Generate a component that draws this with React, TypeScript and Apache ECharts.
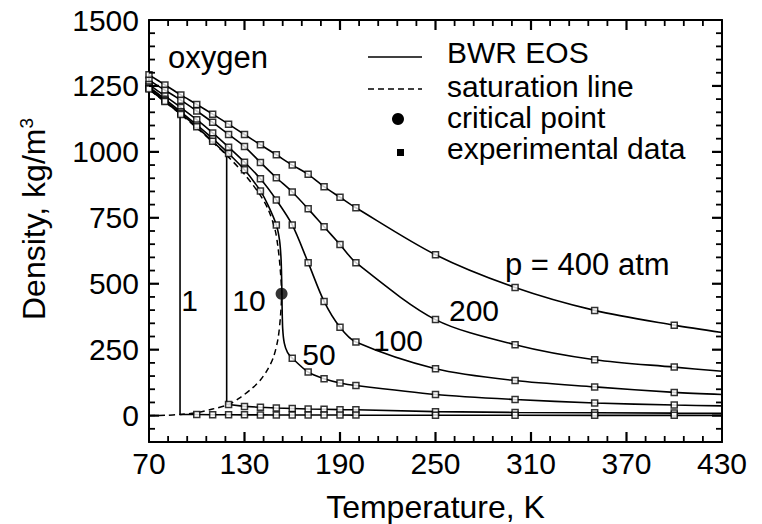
import React, { useEffect, useRef } from 'react';
import * as echarts from 'echarts';

// ---------- data ----------
const T_EXP = [70, 80, 90, 100, 110, 120, 130, 140, 150, 160, 170, 180, 190, 200, 250, 300, 350, 400];
const RHO_400 = [1292, 1254, 1216, 1180, 1143, 1105, 1066, 1027, 989, 950, 915, 868, 828, 788, 610, 486, 399, 343];
const RHO_200 = [1272, 1234, 1196, 1155, 1112, 1066, 1020, 960, 902, 848, 784, 716, 649, 580, 364, 269, 212, 184];
const RHO_100 = [1255, 1212, 1168, 1122, 1072, 1018, 961, 898, 818, 723, 580, 433, 335, 279, 178, 133, 109, 88];
const RHO_50 = [1246, 1200, 1152, 1102, 1050, 994, 932, 852, 723, 218, 165, 140, 124, 114, 80, 61, 48, 40];
const END_430 = { p400: 315, p200: 168, p100: 80, p50: 37, p10: 9, p1: 0.9 };

// 50 atm: extra BWR points near the critical region
const CURVE_50_NEAR_CRIT: [number, number][] = [
  [145, 795], [152, 665], [153, 590], [153.4, 500], [153.6, 420], [154, 330], [155, 275], [157, 240],
];

// 10 atm
const T10_LIQ = [70, 80, 90, 100, 110];
const RHO10_LIQ = [1241, 1194, 1146, 1095, 1040];
const T10_BOIL = 118.8;
const RHO10_BOIL_LIQ = 990;
const RHO10_BOIL_GAS = 42;
const T10_GAS = [120, 130, 140, 150, 160, 170, 180, 190, 200, 250, 300, 350, 400];
const RHO10_GAS = [42, 35, 31.6, 29, 27, 25, 24, 22.7, 22, 15, 12, 11, 9.5];

// 1 atm
const T1_LIQ = [70, 80, 90];
const RHO1_LIQ = [1238, 1191, 1142];
const T1_BOIL = 89.5;
const RHO1_BOIL_GAS = 4.3;
const T1_GAS = [100, 110, 120, 130, 140, 150, 160, 170, 180, 190, 200, 250, 300, 350, 400];
const RHO1_GAS = [4, 3.6, 3.3, 3, 2.8, 2.6, 2.4, 2.3, 2.2, 2.1, 2, 1.6, 1.3, 1.1, 1];

// saturation line (vapour branch up to the critical point, then liquid branch back)
const SAT_T = [70, 80, 90, 100, 110, 120, 127, 135, 140, 144, 148, 151, 152.6, 153.3, 152.4, 151, 149.2, 145, 140, 130, 120, 110, 100, 90, 80, 70];
const SAT_RHO = [0, 1, 4.5, 11, 25, 42, 67, 105, 135, 170, 218, 290, 376, 462, 560, 640, 705, 780, 835, 915, 980, 1037, 1091, 1142, 1190, 1237];

const CRIT_T = 153.3;
const CRIT_RHO = 462;

// axes / ticks
const X_MIN = 70, X_MAX = 430, X_STEP = 60;
const Y_MIN = -100, Y_MAX = 1500, Y_MINOR_STEP = 50;
const X_TICKS = [70, 130, 190, 250, 310, 370, 430];
const X_MINOR_TICKS = [82, 94, 106, 118, 142, 154, 166, 178, 202, 214, 226, 238, 262, 274, 286, 298, 322, 334, 346, 358, 382, 394, 406, 418];
const Y_LABELS = [0, 250, 500, 750, 1000, 1250, 1500];
const Y_MINOR_TICKS = [-50, 50, 100, 150, 200, 300, 350, 400, 450, 550, 600, 650, 700, 800, 850, 900, 950, 1050, 1100, 1150, 1200, 1300, 1350, 1400, 1450];

const FONT = '"Liberation Sans", Arial, Helvetica, sans-serif';

function zip(t: number[], r: number[]): [number, number][] {
  return t.map((v, i) => [v, r[i]]);
}

export default function App() {
  const ref = useRef<HTMLDivElement>(null);
  useEffect(() => {
    document.body.style.margin = '0';
    const chart = echarts.init(ref.current!, null, { renderer: 'svg' });

    const curve400 = [...zip(T_EXP, RHO_400), [430, END_430.p400]];
    const curve200 = [...zip(T_EXP, RHO_200), [430, END_430.p200]];
    const curve100 = [...zip(T_EXP, RHO_100), [430, END_430.p100]];
    const exp50 = zip(T_EXP, RHO_50);
    const curve50 = [
      ...exp50.filter((p) => p[0] <= 140),
      ...CURVE_50_NEAR_CRIT.filter((p) => p[0] < 150),
      ...exp50.filter((p) => p[0] === 150),
      ...CURVE_50_NEAR_CRIT.filter((p) => p[0] > 150),
      ...exp50.filter((p) => p[0] >= 160),
      [430, END_430.p50],
    ];
    const curve10 = [
      ...zip(T10_LIQ, RHO10_LIQ),
      [T10_BOIL, RHO10_BOIL_LIQ],
      [T10_BOIL, RHO10_BOIL_GAS],
      ...zip(T10_GAS, RHO10_GAS),
      [430, END_430.p10],
    ];
    const curve1 = [
      ...zip(T1_LIQ, RHO1_LIQ),
      [T1_BOIL, RHO1_LIQ[2]],
      [T1_BOIL, RHO1_BOIL_GAS],
      ...zip(T1_GAS, RHO1_GAS),
      [430, END_430.p1],
    ];

    const expPoints = [
      ...zip(T_EXP, RHO_400),
      ...zip(T_EXP, RHO_200),
      ...zip(T_EXP, RHO_100),
      ...exp50,
      ...zip(T10_LIQ, RHO10_LIQ),
      ...zip(T10_GAS, RHO10_GAS),
      ...zip(T1_LIQ, RHO1_LIQ),
      ...zip(T1_GAS, RHO1_GAS),
    ];

    const lineStyle = { color: '#000', width: 1.6 };
    const solid = (data: any[], smooth: number | boolean) => ({
      type: 'line',
      data,
      smooth,
      showSymbol: false,
      symbol: 'none',
      lineStyle,
      z: 2,
      silent: true,
    });

    const axisLine = { show: true, onZero: false, lineStyle: { color: '#000', width: 2 } };

    const MAJOR_LEN = 10, MINOR_LEN = 6, MAJOR_W = 2.2, MINOR_W = 1.8;

    // tick data for custom series: [x, y, isMajor]
    const xTickData = [
      ...X_TICKS.filter((v) => v !== X_MIN && v !== X_MAX).map((v) => [v, Y_MIN, 1]),
      ...X_MINOR_TICKS.map((v) => [v, Y_MIN, 0]),
    ];
    const yTickData = [
      ...Y_LABELS.filter((v) => v !== Y_MAX).map((v) => [X_MIN, v, 1]),
      ...Y_MINOR_TICKS.map((v) => [X_MIN, v, 0]),
    ];

    const tickStyle = (major: boolean) => ({ stroke: '#000', fill: 'none', lineWidth: major ? MAJOR_W : MINOR_W });

    const xTickSeries = {
      type: 'custom',
      coordinateSystem: 'cartesian2d',
      data: xTickData,
      silent: true,
      z: 5,
      clip: false,
      renderItem: (params: any, api: any) => {
        const v = api.value(0);
        const major = api.value(2) === 1;
        const L = major ? MAJOR_LEN : MINOR_LEN;
        const b = api.coord([v, Y_MIN]);
        const t = api.coord([v, Y_MAX]);
        return {
          type: 'group',
          children: [
            { type: 'line', shape: { x1: b[0], y1: b[1], x2: b[0], y2: b[1] - L }, style: tickStyle(major) },
            { type: 'line', shape: { x1: t[0], y1: t[1], x2: t[0], y2: t[1] + L }, style: tickStyle(major) },
          ],
        };
      },
    };
    const yTickSeries = {
      type: 'custom',
      coordinateSystem: 'cartesian2d',
      data: yTickData,
      silent: true,
      z: 5,
      clip: false,
      renderItem: (params: any, api: any) => {
        const v = api.value(1);
        const major = api.value(2) === 1;
        const L = major ? MAJOR_LEN : MINOR_LEN;
        const l = api.coord([X_MIN, v]);
        const r = api.coord([X_MAX, v]);
        return {
          type: 'group',
          children: [
            { type: 'line', shape: { x1: l[0], y1: l[1], x2: l[0] + L, y2: l[1] }, style: tickStyle(major) },
            { type: 'line', shape: { x1: r[0], y1: r[1], x2: r[0] - L, y2: r[1] }, style: tickStyle(major) },
          ],
        };
      },
    };

    const graphic: any[] = [
      { type: 'text', x: 168, y: 57, style: { text: 'oxygen', font: `31px ${FONT}`, fill: '#000', align: 'left', verticalAlign: 'middle' } },
      { type: 'line', shape: { x1: 368, y1: 57, x2: 422, y2: 57 }, style: { stroke: '#000', lineWidth: 1.6 } },
      { type: 'line', shape: { x1: 368, y1: 89, x2: 422, y2: 89 }, style: { stroke: '#000', lineWidth: 1.6, lineDash: [6, 4] } },
      { type: 'circle', shape: { cx: 398, cy: 119, r: 6 }, style: { fill: '#000' } },
      { type: 'rect', shape: { x: 397, y: 149, width: 7, height: 7 }, style: { fill: '#000' } },
      { type: 'text', x: 447, y: 52, style: { text: 'BWR EOS', font: `30px ${FONT}`, lineHeight: 29, fill: '#000', verticalAlign: 'middle' } },
      { type: 'text', x: 447, y: 86, style: { text: 'saturation line', font: `30px ${FONT}`, lineHeight: 29, fill: '#000', verticalAlign: 'middle' } },
      { type: 'text', x: 447, y: 117, style: { text: 'critical point', font: `30px ${FONT}`, lineHeight: 29, fill: '#000', verticalAlign: 'middle' } },
      { type: 'text', x: 447, y: 148, style: { text: 'experimental data', font: `30px ${FONT}`, lineHeight: 29, fill: '#000', verticalAlign: 'middle' } },
      { type: 'text', x: 189.5, y: 300, style: { text: '1', font: `30px ${FONT}`, fill: '#000', align: 'center', verticalAlign: 'middle' } },
      { type: 'text', x: 249, y: 300, style: { text: '10', font: `30px ${FONT}`, fill: '#000', align: 'center', verticalAlign: 'middle' } },
      { type: 'text', x: 319, y: 354, style: { text: '50', font: `30px ${FONT}`, fill: '#000', align: 'center', verticalAlign: 'middle' } },
      { type: 'text', x: 398, y: 340, style: { text: '100', font: `30px ${FONT}`, fill: '#000', align: 'center', verticalAlign: 'middle' } },
      { type: 'text', x: 474, y: 310, style: { text: '200', font: `30px ${FONT}`, fill: '#000', align: 'center', verticalAlign: 'middle' } },
      { type: 'text', x: 505, y: 264, style: { text: 'p = 400 atm', font: `31px ${FONT}`, fill: '#000', align: 'left', verticalAlign: 'middle' } },
      { type: 'text', x: 435.5, y: 507, style: { text: 'Temperature, K', font: `32px ${FONT}`, fill: '#000', align: 'center', verticalAlign: 'middle' } },
      {
        type: 'text',
        x: 34,
        y: 219,
        rotation: Math.PI / 2,
        style: {
          text: '{a|Density, kg/m}{b|3}',
          align: 'center',
          verticalAlign: 'middle',
          fill: '#000',
          rich: {
            a: { fontSize: 32, fontFamily: FONT, fill: '#000', lineHeight: 34 },
            b: { fontSize: 19, fontFamily: FONT, fill: '#000', verticalAlign: 'top', lineHeight: 34 },
          },
        },
      },
    ];

    const option: any = {
      animation: false,
      backgroundColor: '#fff',
      grid: { left: 149, right: 40, top: 20, bottom: 82, containLabel: false },
      xAxis: [
        {
          type: 'value',
          position: 'bottom',
          min: X_MIN,
          max: X_MAX,
          interval: X_STEP,
          axisLine,
          axisTick: { show: false },
          splitLine: { show: false },
          axisLabel: { color: '#000', fontSize: 30, fontFamily: FONT, margin: 6 },
        },
        {
          type: 'value',
          position: 'top',
          min: X_MIN,
          max: X_MAX,
          interval: X_STEP,
          axisLine,
          axisTick: { show: false },
          splitLine: { show: false },
          axisLabel: { show: false },
        },
      ],
      yAxis: [
        {
          type: 'value',
          position: 'left',
          min: Y_MIN,
          max: Y_MAX,
          interval: Y_MINOR_STEP,
          axisLine,
          axisTick: { show: false },
          splitLine: { show: false },
          axisLabel: {
            show: true,
            color: '#000',
            fontSize: 30,
            fontFamily: FONT,
            margin: 10,
            formatter: (v: number) => (Y_LABELS.indexOf(v) >= 0 ? String(v) : ''),
          },
        },
        {
          type: 'value',
          position: 'right',
          min: Y_MIN,
          max: Y_MAX,
          interval: Y_MINOR_STEP,
          axisLine,
          axisTick: { show: false },
          splitLine: { show: false },
          axisLabel: { show: false },
        },
      ],
      series: [
        xTickSeries,
        yTickSeries,
        solid(curve400, 0.3),
        solid(curve200, 0.3),
        solid(curve100, 0.3),
        solid(curve50, 0.25),
        solid(curve10, false),
        solid(curve1, false),
        {
          type: 'line',
          data: zip(SAT_T, SAT_RHO),
          smooth: 0.3,
          showSymbol: false,
          symbol: 'none',
          lineStyle: { color: '#000', width: 1.5, type: [6, 4] },
          z: 2,
          silent: true,
        },
        {
          type: 'scatter',
          data: expPoints,
          symbol: 'rect',
          symbolSize: 6,
          itemStyle: { color: '#fff', borderColor: '#000', borderWidth: 1.5 },
          z: 3,
          silent: true,
        },
        {
          type: 'scatter',
          data: [[CRIT_T, CRIT_RHO]],
          symbol: 'circle',
          symbolSize: 12,
          itemStyle: { color: '#000' },
          z: 4,
          silent: true,
        },
      ],
      graphic,
    };

    chart.setOption(option);
    return () => chart.dispose();
  }, []);
  return <div ref={ref} style={{ width: 762, height: 524 }} />;
}
